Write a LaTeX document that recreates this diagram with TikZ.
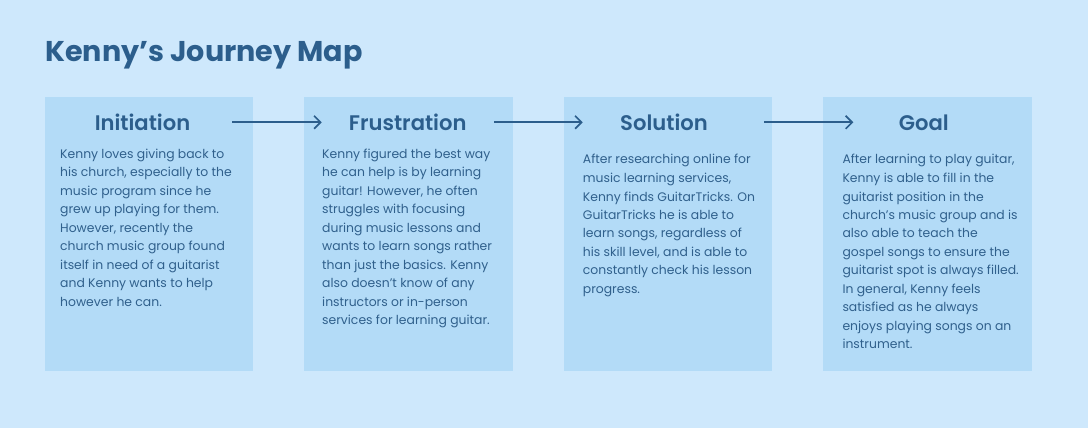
\documentclass[tikz,border=0pt]{standalone}
\usepackage{fontspec}
\setmainfont{Poppins}
\newfontfamily\psemi{Poppins}[UprightFont={* SemiBold}]
\usetikzlibrary{arrows.meta}
\definecolor{bg}{HTML}{CEE8FC}
\definecolor{boxc}{HTML}{B3DBF7}
\definecolor{ink}{HTML}{2C5E8C}
\definecolor{bodyink}{HTML}{30608C}
\tikzset{
  card/.style={fill=boxc, draw=none},
  heading/.style={anchor=base, inner sep=0pt, text=ink, font=\psemi\fontsize{21.1}{25}\selectfont},
  bodytext/.style={anchor=base west, inner sep=0pt, text=bodyink, font=\fontsize{12.4}{18.5}\selectfont},
  flow/.style={draw=ink, line width=1.8pt, -{Straight Barb[length=6.5pt,width=13pt,line width=1.6pt]}},
}
\newcommand{\bodylines}[1]{\begin{tabular}[t]{@{}l@{}}#1\end{tabular}}
\begin{document}
\begin{tikzpicture}[x=1pt,y=-1pt]
\useasboundingbox[fill=bg] (0,0) rectangle (1088,428);
\node[anchor=base west, inner sep=0pt, text=ink, font=\bfseries\fontsize{28.6}{33}\selectfont] (title) at (45,61.7) {Kenny’s Journey Map};
\path[card] (44.7,96.7) rectangle (252.7,371);
\path[card] (304,96.7) rectangle (512.7,371);
\path[card] (564,96.7) rectangle (772,371);
\path[card] (823.3,96.7) rectangle (1031.7,371);
\node[heading] (h1) at (142.5,130.7) {Initiation};
\node[heading] (h2) at (407.7,130.7) {Frustration};
\node[heading] (h3) at (664,130.7) {Solution};
\node[heading] (h4) at (923.8,130.7) {Goal};
\coordinate (a1s) at (232.3,122.3); \coordinate (a1e) at (321.7,122.3);
\coordinate (a2s) at (494,122.3); \coordinate (a2e) at (582.7,122.3);
\coordinate (a3s) at (764,122.3); \coordinate (a3e) at (853.3,122.3);
\draw[flow] (a1s) -- (a1e);
\draw[flow] (a2s) -- (a2e);
\draw[flow] (a3s) -- (a3e);
\node[bodytext] (b1) at (60,158.3) {\bodylines{Kenny loves giving back to\\his church, especially to the\\music program since he\\grew up playing for them.\\However, recently the\\church music group found\\itself in need of a guitarist\\and Kenny wants to help\\however he can.}};
\node[bodytext] (b2) at (322,158.3) {\bodylines{Kenny figured the best way\\he can help is by learning\\guitar! However, he often\\struggles with focusing\\during music lessons and\\wants to learn songs rather\\than just the basics. Kenny\\also doesn’t know of any\\instructors or in-person\\services for learning guitar.}};
\node[bodytext] (b3) at (582.7,164) {\bodylines{After researching online for\\music learning services,\\Kenny finds GuitarTricks. On\\GuitarTricks he is able to\\learn songs, regardless of\\his skill level, and is able to\\constantly check his lesson\\progress.}};
\node[bodytext] (b4) at (842.3,164) {\bodylines{After learning to play guitar,\\Kenny is able to fill in the\\guitarist position in the\\church’s music group and is\\also able to teach the\\gospel songs to ensure the\\guitarist spot is always filled.\\In general, Kenny feels\\satisfied as he always\\enjoys playing songs on an\\instrument.}};
\end{tikzpicture}
\end{document}
